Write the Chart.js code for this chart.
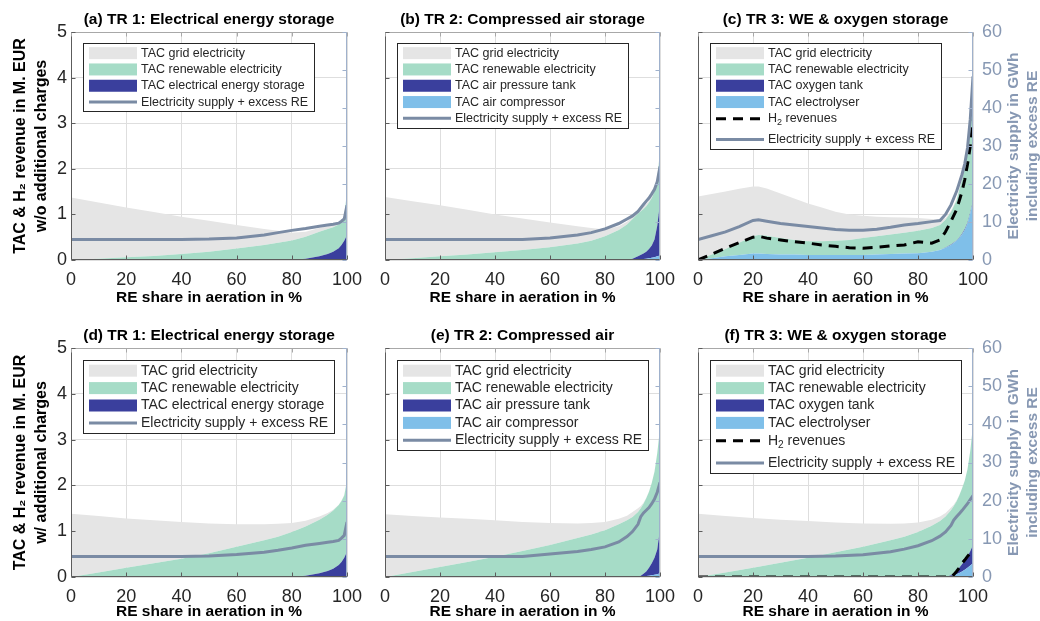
<!DOCTYPE html>
<html lang="en">
<head>
<meta charset="UTF-8">
<title>TAC and electricity supply vs RE share in aeration</title>
<script src="https://cdn.jsdelivr.net/npm/chart.js@4"></script>
<style>
  html, body { margin: 0; padding: 0; background: #fff; overflow: hidden; }
  #wrap { position: relative; width: 1040px; height: 621px; }
  canvas { position: absolute; display: block; }
</style>
</head>
<body>
<div id="wrap">
  <canvas id="pa" width="380" height="310" style="left:0;top:0"></canvas>
  <canvas id="pb" width="340" height="310" style="left:355px;top:0"></canvas>
  <canvas id="pc" width="365" height="310" style="left:675px;top:0"></canvas>
  <canvas id="pd" width="380" height="305" style="left:0;top:316px"></canvas>
  <canvas id="pe" width="340" height="305" style="left:355px;top:316px"></canvas>
  <canvas id="pf" width="365" height="305" style="left:675px;top:316px"></canvas>
</div>
<script>
// ---- data (TAC in M. EUR per layer, supply in GWh) ----
const A_X        = [0, 10, 20, 30, 40, 50, 60, 70, 75, 80, 85, 90, 93, 95, 97, 98, 99, 100];
const A_STORAGE  = [0, 0, 0, 0, 0, 0, 0, 0, 0, 0, 0.03, 0.08, 0.13, 0.18, 0.26, 0.33, 0.42, 0.55];
const A_RENEW    = [0, 0.03, 0.06, 0.09, 0.13, 0.18, 0.25, 0.33, 0.38, 0.43, 0.48, 0.54, 0.55, 0.54, 0.52, 0.50, 0.53, 0.95];
const A_GRID     = [1.37, 1.23, 1.09, 0.96, 0.82, 0.68, 0.52, 0.35, 0.26, 0.17, 0.11, 0.08, 0.06, 0.05, 0.03, 0.03, 0.02, 0.02];
const A_SUPPLY   = [5.4, 5.4, 5.4, 5.4, 5.4, 5.5, 5.8, 6.6, 7.2, 7.8, 8.3, 8.9, 9.2, 9.4, 9.7, 10.2, 10.8, 14.4];

const B_X          = [0, 10, 20, 30, 40, 50, 60, 70, 75, 80, 85, 88, 90, 92, 94, 95, 96, 97, 98, 99, 100];
const B_COMPRESSOR = [0, 0, 0, 0, 0, 0, 0, 0, 0, 0, 0, 0, 0.005, 0.01, 0.02, 0.03, 0.04, 0.05, 0.06, 0.08, 0.1];
const B_TANK       = [0, 0, 0, 0, 0, 0, 0, 0, 0, 0, 0, 0, 0.025, 0.07, 0.12, 0.15, 0.2, 0.27, 0.39, 0.67, 1.15];
const B_RENEW      = [0, 0.04, 0.08, 0.12, 0.17, 0.22, 0.28, 0.36, 0.42, 0.52, 0.66, 0.78, 0.87, 0.94, 0.98, 1.0, 1.02, 1.04, 1.05, 1.0, 1.15];
const B_GRID       = [1.38, 1.25, 1.12, 0.98, 0.83, 0.69, 0.54, 0.38, 0.28, 0.15, 0.08, 0.06, 0.05, 0.05, 0.05, 0.05, 0.04, 0.04, 0.04, 0.04, 0.02];
const B_SUPPLY     = [5.4, 5.4, 5.4, 5.4, 5.4, 5.4, 5.8, 6.6, 7.2, 8.2, 9.6, 10.8, 11.6, 12.8, 14.6, 15.5, 16.3, 17.4, 18.6, 20.6, 24.6];

const C_X            = [0, 5, 10, 15, 20, 22, 25, 30, 35, 40, 45, 50, 55, 60, 65, 70, 75, 80, 85, 88, 90, 92, 94, 95, 96, 97, 98, 99, 100];
const C_ELECTROLYSER = [0, 0.04, 0.08, 0.11, 0.14, 0.14, 0.13, 0.12, 0.12, 0.11, 0.11, 0.11, 0.11, 0.11, 0.12, 0.13, 0.14, 0.15, 0.18, 0.22, 0.27, 0.33, 0.42, 0.48, 0.56, 0.66, 0.8, 1.02, 1.28];
const C_O2TANK       = [0, 0, 0, 0, 0, 0, 0, 0, 0, 0, 0, 0, 0, 0, 0, 0, 0, 0, 0, 0, 0.005, 0.01, 0.01, 0.015, 0.015, 0.02, 0.02, 0.02, 0.02];
const C_RENEW        = [0, 0.08, 0.16, 0.27, 0.38, 0.41, 0.40, 0.36, 0.32, 0.30, 0.30, 0.31, 0.33, 0.37, 0.40, 0.43, 0.46, 0.49, 0.52, 0.55, 0.605, 0.71, 0.87, 1.045, 1.175, 1.37, 1.58, 1.86, 2.30];
const C_GRID         = [1.39, 1.33, 1.26, 1.18, 1.09, 1.06, 1.04, 0.98, 0.91, 0.83, 0.74, 0.64, 0.56, 0.49, 0.43, 0.38, 0.33, 0.28, 0.2, 0.11, 0.04, 0.03, 0.03, 0.03, 0.03, 0.03, 0.03, 0.03, 0.02];
const C_H2           = [0, 0.13, 0.26, 0.38, 0.5, 0.52, 0.48, 0.44, 0.4, 0.37, 0.33, 0.3, 0.27, 0.26, 0.28, 0.31, 0.33, 0.4, 0.37, 0.44, 0.62, 0.85, 1.1, 1.3, 1.5, 1.76, 2.1, 2.5, 3.07];
const C_SUPPLY       = [5.4, 6.4, 7.4, 8.8, 10.4, 10.6, 10.2, 9.6, 9.2, 8.8, 8.4, 8.0, 7.8, 7.8, 8.1, 8.6, 9.2, 9.6, 10.1, 10.4, 12.0, 14.5, 18.0, 20.2, 22.5, 25.3, 29.5, 37.0, 48.3];

const D_X        = [0, 10, 20, 30, 40, 50, 60, 70, 75, 80, 85, 90, 93, 95, 97, 98, 99, 100];
const D_STORAGE  = [0, 0, 0, 0, 0, 0, 0, 0, 0, 0, 0.03, 0.08, 0.13, 0.18, 0.26, 0.33, 0.42, 0.55];
const D_RENEW    = [0, 0.1, 0.2, 0.3, 0.4, 0.52, 0.66, 0.8, 0.88, 0.98, 1.07, 1.17, 1.23, 1.27, 1.31, 1.33, 1.36, 1.55];
const D_GRID     = [1.38, 1.23, 1.08, 0.94, 0.8, 0.65, 0.49, 0.35, 0.28, 0.2, 0.13, 0.07, 0.04, 0.02, 0.01, 0.01, 0.01, 0.01];
const D_SUPPLY   = [5.4, 5.4, 5.4, 5.4, 5.4, 5.5, 5.9, 6.5, 7.0, 7.6, 8.3, 8.8, 9.1, 9.3, 9.6, 10.2, 10.9, 14.4];

const E_X          = [0, 10, 20, 30, 40, 50, 60, 70, 75, 80, 85, 88, 90, 92, 93, 94, 95, 96, 97, 98, 99, 100];
const E_COMPRESSOR = [0, 0, 0, 0, 0, 0, 0, 0, 0, 0, 0, 0, 0, 0, 0.005, 0.01, 0.02, 0.03, 0.04, 0.05, 0.06, 0.08];
const E_TANK       = [0, 0, 0, 0, 0, 0, 0, 0, 0, 0, 0, 0, 0, 0, 0.025, 0.06, 0.1, 0.17, 0.26, 0.37, 0.54, 0.97];
const E_RENEW      = [0, 0.11, 0.22, 0.33, 0.44, 0.57, 0.7, 0.85, 0.93, 1.02, 1.15, 1.24, 1.31, 1.42, 1.47, 1.53, 1.6, 1.66, 1.75, 1.88, 2.1, 2.2];
const E_GRID       = [1.37, 1.22, 1.08, 0.94, 0.8, 0.63, 0.48, 0.32, 0.25, 0.18, 0.12, 0.1, 0.11, 0.08, 0.05, 0.02, 0.01, 0.01, 0.01, 0.01, 0.01, 0.01];
const E_SUPPLY     = [5.4, 5.4, 5.4, 5.4, 5.4, 5.4, 6.0, 6.7, 7.2, 7.9, 9.2, 10.6, 11.9, 13.8, 15.8, 16.8, 17.5, 18.2, 19.2, 20.4, 22.2, 24.8];

const F_X            = [0, 10, 20, 30, 40, 50, 60, 70, 75, 80, 85, 88, 90, 92, 93, 94, 95, 96, 97, 98, 99, 100];
const F_ELECTROLYSER = [0, 0, 0, 0, 0, 0, 0, 0, 0, 0, 0, 0, 0, 0.02, 0.04, 0.06, 0.09, 0.12, 0.16, 0.2, 0.25, 0.3];
const F_O2TANK       = [0, 0, 0, 0, 0, 0, 0, 0, 0, 0, 0, 0, 0, 0.02, 0.04, 0.07, 0.11, 0.16, 0.2, 0.25, 0.31, 0.4];
const F_RENEW        = [0, 0.1, 0.2, 0.31, 0.42, 0.54, 0.66, 0.8, 0.88, 0.98, 1.12, 1.22, 1.32, 1.42, 1.47, 1.52, 1.58, 1.65, 1.74, 1.9, 2.19, 2.6];
const F_GRID         = [1.38, 1.23, 1.09, 0.94, 0.8, 0.65, 0.51, 0.36, 0.29, 0.21, 0.13, 0.1, 0.08, 0.06, 0.03, 0.02, 0.01, 0.01, 0.01, 0.01, 0.01, 0.01];
const F_H2           = [0, 0, 0, 0, 0, 0, 0, 0, 0, 0, 0, 0, 0, 0, 0.05, 0.12, 0.2, 0.3, 0.37, 0.45, 0.52, 0.6];
const F_SUPPLY       = [5.4, 5.4, 5.4, 5.4, 5.4, 5.5, 5.8, 6.6, 7.3, 8.2, 9.5, 10.7, 11.8, 13.5, 14.9, 15.8, 16.6, 17.4, 18.3, 19.2, 20.3, 21.3];

const TITLES = [
  '(a) TR 1: Electrical energy storage', '(b) TR 2: Compressed air storage', '(c) TR 3: WE & oxygen storage',
  '(d) TR 1: Electrical energy storage', '(e) TR 2: Compressed air', '(f) TR 3: WE & oxygen storage'
];
const Y_TITLE_TOP = ['TAC & H₂ revenue in M. EUR', 'w/o additional charges'];
const Y_TITLE_BOTTOM = ['TAC & H₂ revenue in M. EUR', 'w/ additional charges'];
const Y2_TITLE = ['Electricity supply in GWh', 'including excess RE'];
const X_TITLE = 'RE share in aeration in %';

const L_GRID = 'TAC grid electricity', L_RENEW = 'TAC renewable electricity';
const L_SUPPLY = 'Electricity supply + excess RE', L_H2 = 'H₂ revenues';

// ---- styles ----
const FONT = "'Liberation Sans', Arial, Helvetica, sans-serif";
const C_GRAY = '#e5e5e5', C_GREEN = '#a6dcc7', C_NAVY = '#3a3f9d', C_SKY = '#7fbfe9';
const C_LINE = '#7a8ba4', C_AX2 = '#8798b3', C_GRIDLINE = '#dedede', C_TXT = '#262626';

Chart.defaults.font.family = FONT;
Chart.defaults.color = C_TXT;

const pts = (xs, ys) => xs.map((x, i) => ({ x, y: ys[i] }));

function labelWidth(ctx, text, fs) {
  const parts = text.split('₂');
  if (parts.length === 1) return ctx.measureText(text).width;
  let w = ctx.measureText(parts[0]).width + ctx.measureText(parts[1]).width;
  ctx.save(); ctx.font = `${fs * 0.72}px ${FONT}`; w += ctx.measureText('2').width; ctx.restore();
  return w;
}

function drawLabel(ctx, text, x, y, fs) {
  const parts = text.split('₂');
  ctx.fillText(parts[0], x, y);
  if (parts.length === 1) return;
  x += ctx.measureText(parts[0]).width;
  ctx.save(); ctx.font = `${fs * 0.72}px ${FONT}`;
  ctx.fillText('2', x, y + fs * 0.32);
  x += ctx.measureText('2').width; ctx.restore();
  ctx.fillText(parts[1], x, y);
}

// frame, inner ticks, boxed legend, panel title and the right-hand axis title
const panelDecor = {
  id: 'panelDecor',
  afterDatasetsDraw(chart, args, o) {
    const { ctx, chartArea: a, scales } = chart;
    const L = Math.round(a.left) + 0.5, R = Math.round(a.right) - 0.5;
    const T = Math.round(a.top) + 0.5, B = Math.round(a.bottom) - 0.5;
    ctx.save();
    ctx.lineWidth = 1;
    const seg = (x1, y1, x2, y2, c) => { ctx.strokeStyle = c; ctx.beginPath(); ctx.moveTo(x1, y1); ctx.lineTo(x2, y2); ctx.stroke(); };
    seg(L, T, R, T, '#a8a8a8');
    seg(R, T, R, B, '#9fb1cc');
    seg(L, T, L, B, '#5c5c5c');
    seg(L, B, R, B, '#5c5c5c');
    scales.x.ticks.forEach(t => {
      const px = Math.round(scales.x.getPixelForValue(t.value)) + 0.5;
      seg(px, B, px, B - 4, '#5c5c5c');
      seg(px, T, px, T + 4, '#a8a8a8');
    });
    scales.y.ticks.forEach(t => {
      const py = Math.round(scales.y.getPixelForValue(t.value)) + 0.5;
      seg(L, py, L + 4, py, '#5c5c5c');
    });
    scales.y2.ticks.forEach(t => {
      const py = Math.round(scales.y2.getPixelForValue(t.value)) + 0.5;
      seg(R, py, R - 4, py, '#9fb1cc');
    });

    // legend box
    const fs = o.size, rowH = o.rowH;
    const sets = o.order.map(lbl => chart.data.datasets.find(d => d.label === lbl));
    ctx.font = `${fs}px ${FONT}`;
    const tw = Math.max(...sets.map(d => labelWidth(ctx, d.label, fs)));
    const hs = sets.map(d => d.label.includes('₂') ? rowH * 1.3 : rowH);
    const x0 = Math.round(a.left + o.dx), y0 = Math.round(a.top + o.dy);
    const w = Math.round(58 + tw + 6);
    const h = Math.round(o.padTop + hs.reduce((s, v) => s + v, 0) + o.padBottom);
    ctx.fillStyle = '#fff';
    ctx.fillRect(x0, y0, w, h);
    ctx.strokeStyle = '#262626';
    ctx.strokeRect(x0 + 0.5, y0 + 0.5, w, h);
    ctx.textBaseline = 'middle';
    ctx.textAlign = 'left';
    let y = y0 + o.padTop;
    sets.forEach((d, i) => {
      const cy = y + (hs[i] === rowH ? rowH / 2 : hs[i] * 0.4);
      const sx = x0 + 6, sw = 48;
      if (d.kind === 'fill') {
        ctx.fillStyle = d.backgroundColor;
        ctx.fillRect(sx, cy - 6, sw, 12);
      } else {
        ctx.strokeStyle = d.borderColor;
        ctx.lineWidth = 3;
        ctx.setLineDash(d.borderDash || []);
        ctx.beginPath(); ctx.moveTo(sx, cy); ctx.lineTo(sx + sw, cy); ctx.stroke();
        ctx.setLineDash([]);
        ctx.lineWidth = 1;
      }
      ctx.fillStyle = C_TXT;
      drawLabel(ctx, d.label, sx + sw + 4, cy, fs);
      y += hs[i];
    });
    ctx.restore();
  },
  afterDraw(chart, args, o) {
    const { ctx, chartArea: a } = chart;
    ctx.save();
    ctx.textAlign = 'center';
    ctx.textBaseline = 'middle';
    ctx.fillStyle = '#000';
    ctx.font = `bold 15.5px ${FONT}`;
    ctx.fillText(o.title, (a.left + a.right) / 2, a.top - 12);
    if (o.rightTitle) {
      const cy = (a.top + a.bottom) / 2;
      ctx.fillStyle = C_AX2;
      o.rightTitle.forEach((t, i) => {
        ctx.save();
        ctx.translate(a.right + 41 + i * 19, cy);
        ctx.rotate(-Math.PI / 2);
        ctx.fillText(t, 0, 0);
        ctx.restore();
      });
    }
    ctx.restore();
  }
};

function makePanel(id, p) {
  const datasets = p.areas.map((s, i) => ({
    label: s.label, kind: 'fill', data: pts(p.x, s.values),
    backgroundColor: s.color, borderColor: 'rgba(0,0,0,0)', borderWidth: 0,
    fill: i === 0 ? 'origin' : '-1', stack: 'tac', yAxisID: 'y', order: 2
  }));
  if (p.h2) {
    datasets.push({
      label: L_H2, kind: 'dash', data: pts(p.x, p.h2),
      borderColor: '#000', borderWidth: 3, borderDash: [10, 7],
      fill: false, stack: 'h2', yAxisID: 'y', order: 1
    });
  }
  datasets.push({
    label: L_SUPPLY, kind: 'line', data: pts(p.x, p.supply),
    borderColor: C_LINE, borderWidth: 3, fill: false, yAxisID: 'y2', order: 0
  });

  const row2 = p.row === 2;
  const showY2 = !!p.rightTitle;
  new Chart(document.getElementById(id), {
    type: 'line',
    data: { datasets },
    options: {
      responsive: false,
      animation: false,
      events: [],
      layout: { padding: { left: 0, right: p.padRight, top: 32, bottom: 0 } },
      elements: { point: { radius: 0, hoverRadius: 0 }, line: { tension: 0 } },
      plugins: {
        legend: { display: false },
        tooltip: { enabled: false },
        title: { display: false },
        panelDecor: {
          title: p.title,
          order: p.legend,
          size: row2 ? 14 : 12.5,
          rowH: row2 ? 17.4 : 16.3,
          dx: 12, dy: row2 ? 12 : 11, padTop: 2, padBottom: 1,
          rightTitle: p.rightTitle
        }
      },
      scales: {
        x: {
          type: 'linear', min: 0, max: 100,
          ticks: { stepSize: 20, padding: 9, font: { size: 18 }, color: C_TXT },
          grid: { color: C_GRIDLINE, drawTicks: false },
          border: { display: false },
          title: {
            display: true, text: X_TITLE, color: '#000',
            font: { size: 15.5, weight: 'bold' },
            padding: { top: 0, bottom: row2 ? 0 : 2.7 }
          },
          afterFit: s => { s.height = row2 ? 44 : 50; }
        },
        y: {
          stacked: true, min: 0, max: 5,
          ticks: { stepSize: 1, display: !!p.yTitle, padding: 4, font: { size: 18 }, color: C_TXT },
          grid: { color: C_GRIDLINE, drawTicks: false },
          border: { display: false },
          title: p.yTitle ? {
            display: true, text: p.yTitle, color: '#000',
            font: { size: 16, weight: 'bold', lineHeight: 1.3 },
            padding: { top: 10.5, bottom: 0 }
          } : { display: false },
          afterFit: s => { s.width = p.yWidth; }
        },
        y2: {
          position: 'right', display: showY2, min: 0, max: 60,
          ticks: { stepSize: 10, padding: 9, font: { size: 18 }, color: C_AX2 },
          grid: { drawOnChartArea: false, drawTicks: false },
          border: { display: false },
          afterFit: s => { s.width = showY2 ? 67 : 0; }
        }
      }
    },
    plugins: [panelDecor]
  });
}

const LEG_EES = [L_GRID, L_RENEW, 'TAC electrical energy storage', L_SUPPLY];
const LEG_CAS = [L_GRID, L_RENEW, 'TAC air pressure tank', 'TAC air compressor', L_SUPPLY];
const LEG_WE  = [L_GRID, L_RENEW, 'TAC oxygen tank', 'TAC electrolyser', L_H2, L_SUPPLY];

makePanel('pa', {
  row: 1, title: TITLES[0], x: A_X, supply: A_SUPPLY, legend: LEG_EES,
  yTitle: Y_TITLE_TOP, yWidth: 71, padRight: 33,
  areas: [
    { label: 'TAC electrical energy storage', values: A_STORAGE, color: C_NAVY },
    { label: L_RENEW, values: A_RENEW, color: C_GREEN },
    { label: L_GRID, values: A_GRID, color: C_GRAY }
  ]
});
makePanel('pb', {
  row: 1, title: TITLES[1], x: B_X, supply: B_SUPPLY, legend: LEG_CAS,
  yWidth: 30, padRight: 35,
  areas: [
    { label: 'TAC air compressor', values: B_COMPRESSOR, color: C_SKY },
    { label: 'TAC air pressure tank', values: B_TANK, color: C_NAVY },
    { label: L_RENEW, values: B_RENEW, color: C_GREEN },
    { label: L_GRID, values: B_GRID, color: C_GRAY }
  ]
});
makePanel('pc', {
  row: 1, title: TITLES[2], x: C_X, supply: C_SUPPLY, h2: C_H2, legend: LEG_WE,
  yWidth: 23, padRight: 0, rightTitle: Y2_TITLE,
  areas: [
    { label: 'TAC electrolyser', values: C_ELECTROLYSER, color: C_SKY },
    { label: 'TAC oxygen tank', values: C_O2TANK, color: C_NAVY },
    { label: L_RENEW, values: C_RENEW, color: C_GREEN },
    { label: L_GRID, values: C_GRID, color: C_GRAY }
  ]
});
makePanel('pd', {
  row: 2, title: TITLES[3], x: D_X, supply: D_SUPPLY, legend: LEG_EES,
  yTitle: Y_TITLE_BOTTOM, yWidth: 71, padRight: 33,
  areas: [
    { label: 'TAC electrical energy storage', values: D_STORAGE, color: C_NAVY },
    { label: L_RENEW, values: D_RENEW, color: C_GREEN },
    { label: L_GRID, values: D_GRID, color: C_GRAY }
  ]
});
makePanel('pe', {
  row: 2, title: TITLES[4], x: E_X, supply: E_SUPPLY, legend: LEG_CAS,
  yWidth: 30, padRight: 35,
  areas: [
    { label: 'TAC air compressor', values: E_COMPRESSOR, color: C_SKY },
    { label: 'TAC air pressure tank', values: E_TANK, color: C_NAVY },
    { label: L_RENEW, values: E_RENEW, color: C_GREEN },
    { label: L_GRID, values: E_GRID, color: C_GRAY }
  ]
});
makePanel('pf', {
  row: 2, title: TITLES[5], x: F_X, supply: F_SUPPLY, h2: F_H2, legend: LEG_WE,
  yWidth: 23, padRight: 0, rightTitle: Y2_TITLE,
  areas: [
    { label: 'TAC electrolyser', values: F_ELECTROLYSER, color: C_SKY },
    { label: 'TAC oxygen tank', values: F_O2TANK, color: C_NAVY },
    { label: L_RENEW, values: F_RENEW, color: C_GREEN },
    { label: L_GRID, values: F_GRID, color: C_GRAY }
  ]
});
</script>
</body>
</html>
